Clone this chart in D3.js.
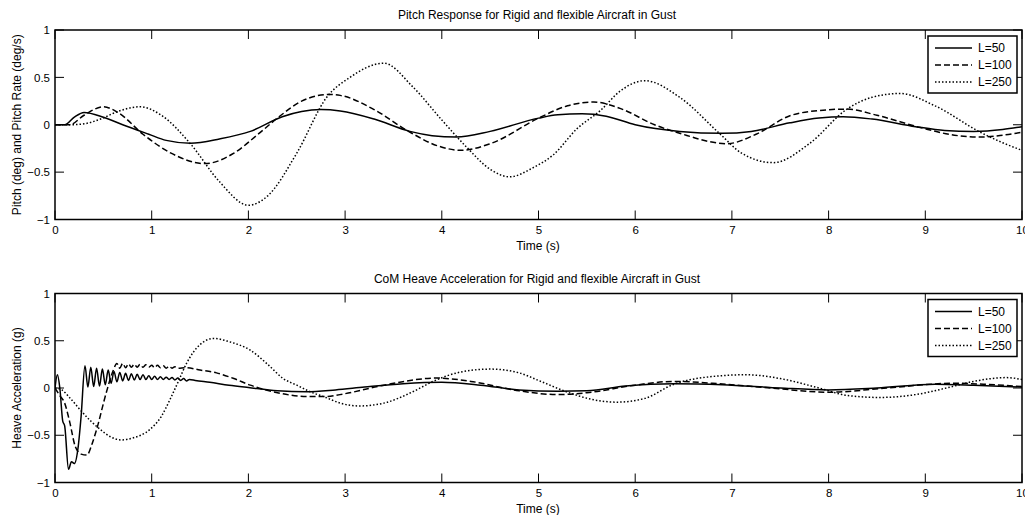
<!DOCTYPE html>
<html>
<head>
<meta charset="utf-8">
<script src="https://cdn.jsdelivr.net/npm/d3@7"></script>
<style>
  body { margin: 0; background: #fff; }
  svg text { font-family: "Liberation Sans", Arial, sans-serif; fill: #000; }
</style>
</head>
<body>
<svg id="chart" width="1025" height="515"></svg>
<script>
// series labels
const seriesNames = ["L=50", "L=100", "L=250"];
const xTicks = [0, 1, 2, 3, 4, 5, 6, 7, 8, 9, 10];
const yTicks = [-1, -0.5, 0, 0.5, 1];

// pitch response [t, value]
const pitchL50 = [[0,0],[0.1,0],[0.2,0.08],[0.3,0.13],[0.5,0.08],[0.7,0.0],[0.97,-0.1],[1.15,-0.165],[1.4,-0.195],[1.7,-0.15],[2.02,-0.07],[2.35,0.085],[2.55,0.14],[2.75,0.16],[2.95,0.145],[3.3,0.06],[3.67,-0.07],[3.9,-0.115],[4.15,-0.13],[4.5,-0.07],[5.0,0.07],[5.2,0.105],[5.45,0.115],[5.7,0.09],[6.0,0.0],[6.46,-0.07],[6.9,-0.09],[7.2,-0.07],[7.6,0.02],[7.9,0.07],[8.15,0.085],[8.45,0.06],[8.9,-0.02],[9.2,-0.06],[9.5,-0.07],[9.8,-0.05],[10,-0.02]];
const pitchL100 = [[0,0],[0.15,0.0],[0.3,0.1],[0.5,0.19],[0.65,0.13],[0.91,-0.1],[1.2,-0.3],[1.55,-0.41],[1.85,-0.3],[2.1,-0.1],[2.33,0.095],[2.55,0.25],[2.84,0.32],[2.95,0.31],[3.3,0.16],[3.64,-0.06],[3.95,-0.22],[4.2,-0.27],[4.5,-0.2],[5.02,0.08],[5.3,0.2],[5.57,0.24],[5.85,0.17],[6.2,0.0],[6.46,-0.09],[6.95,-0.2],[7.25,-0.1],[7.6,0.095],[7.9,0.15],[8.19,0.165],[8.5,0.1],[8.95,-0.03],[9.3,-0.11],[9.57,-0.13],[9.8,-0.11],[10,-0.08]];
const pitchL250 = [[0,0],[0.15,0.0],[0.3,0.01],[0.47,0.06],[0.65,0.14],[0.88,0.19],[1.1,0.1],[1.4,-0.2],[1.7,-0.6],[2.0,-0.85],[2.2,-0.75],[2.5,-0.3],[2.81,0.29],[3.05,0.5],[3.4,0.65],[3.7,0.4],[4.0,0.05],[4.26,-0.24],[4.5,-0.47],[4.7,-0.55],[4.95,-0.45],[5.15,-0.32],[5.4,-0.04],[5.64,0.15],[5.85,0.36],[6.1,0.465],[6.46,0.29],[6.88,-0.1],[7.1,-0.3],[7.43,-0.4],[7.8,-0.2],[8.19,0.165],[8.45,0.29],[8.74,0.33],[9.1,0.2],[9.57,-0.08],[9.8,-0.19],[10,-0.27]];

// heave acceleration [t, value]
const heaveL50 = [[0,0],[0.025,0.14],[0.05,0.0],[0.08,-0.35],[0.1,-0.4],[0.14,-0.86],[0.17,-0.78],[0.2,-0.8],[0.24,-0.62],[0.27,-0.3],[0.31,0.235],
  [0.34,0.01],[0.37,0.22],[0.40,0.015],[0.43,0.21],[0.46,0.02],[0.49,0.2],[0.52,0.035],[0.55,0.19],[0.58,0.05],[0.61,0.175],[0.64,0.065],[0.67,0.165],[0.70,0.075],[0.73,0.155],[0.76,0.08],[0.79,0.15],[0.82,0.085],[0.85,0.145],[0.88,0.09],[0.91,0.14],[0.94,0.09],[0.97,0.13],[1.0,0.09],[1.03,0.125],[1.06,0.09],[1.09,0.12],[1.12,0.09],[1.15,0.115],[1.18,0.09],[1.21,0.11],[1.24,0.085],[1.27,0.105],[1.30,0.08],[1.33,0.1],[1.36,0.075],[1.39,0.09],
  [1.45,0.08],[1.6,0.06],[1.8,0.03],[2.0,0.005],[2.3,-0.03],[2.6,-0.04],[2.9,-0.02],[3.2,0.01],[3.6,0.045],[4.0,0.06],[4.4,0.03],[4.8,-0.02],[5.2,-0.035],[5.5,-0.03],[5.9,0.02],[6.4,0.045],[6.9,0.035],[7.5,0.0],[8.0,-0.02],[8.5,0.0],[9.1,0.04],[9.5,0.03],[10,0.01]];
const heaveL100 = [[0,0],[0.05,-0.08],[0.1,-0.16],[0.15,-0.35],[0.21,-0.62],[0.27,-0.7],[0.33,-0.71],[0.38,-0.6],[0.43,-0.44],[0.53,-0.05],[0.6,0.18],
  [0.64,0.26],[0.67,0.21],[0.70,0.26],[0.73,0.215],[0.76,0.255],[0.79,0.22],[0.82,0.25],[0.85,0.22],[0.88,0.25],[0.91,0.22],[0.94,0.245],[0.97,0.22],[1.0,0.24],[1.03,0.215],[1.06,0.24],[1.09,0.215],[1.12,0.235],[1.15,0.21],[1.18,0.23],[1.21,0.21],[1.24,0.225],[1.27,0.21],
  [1.35,0.215],[1.5,0.19],[1.67,0.16],[1.85,0.1],[2.02,0.03],[2.3,-0.05],[2.6,-0.09],[2.8,-0.09],[3.0,-0.06],[3.4,0.03],[3.95,0.105],[4.3,0.07],[4.8,-0.03],[5.2,-0.07],[5.5,-0.05],[6.0,0.03],[6.4,0.07],[6.8,0.05],[7.4,0.0],[8.0,-0.045],[8.6,0.0],[9.3,0.05],[9.6,0.04],[10,0.015]];
const heaveL250 = [[0,0],[0.07,-0.02],[0.15,-0.1],[0.26,-0.23],[0.37,-0.35],[0.47,-0.44],[0.58,-0.52],[0.69,-0.55],[0.8,-0.53],[0.98,-0.44],[1.1,-0.3],[1.19,-0.12],[1.28,0.08],[1.36,0.26],[1.5,0.46],[1.64,0.525],[1.8,0.49],[2.02,0.4],[2.2,0.25],[2.36,0.1],[2.5,0.03],[2.64,-0.04],[2.8,-0.1],[2.95,-0.16],[3.15,-0.19],[3.4,-0.16],[3.7,-0.04],[3.91,0.07],[4.2,0.17],[4.5,0.2],[4.8,0.16],[5.0,0.08],[5.29,-0.04],[5.55,-0.12],[5.81,-0.15],[6.1,-0.11],[6.4,0.04],[6.7,0.11],[7.15,0.14],[7.5,0.1],[7.9,0.0],[8.2,-0.08],[8.53,-0.1],[8.9,-0.07],[9.22,0.0],[9.5,0.07],[9.84,0.11],[10,0.09]];

const dashes = [null, "6,3", "1.5,2"];

const svg = d3.select("#chart");
const left = 55, right = 1022;
const x = d3.scaleLinear().domain([0, 10]).range([left, right]);

function panel(top, bottom, title, ylabel, series, clipId) {
    const y = d3.scaleLinear().domain([-1, 1]).range([bottom, top]);
    const g = svg.append("g");

    svg.append("clipPath").attr("id", clipId)
        .append("rect").attr("x", left).attr("y", top)
        .attr("width", right - left).attr("height", bottom - top);

    // tick labels
    g.append("g").attr("transform", `translate(0,${bottom})`)
        .call(d3.axisBottom(x).tickValues(xTicks).tickSize(0).tickPadding(6).tickFormat(d3.format("d")))
        .call(a => a.select(".domain").remove())
        .selectAll("text").attr("font-size", 11.5).attr("font-family", "Liberation Sans, Arial, sans-serif");
    g.append("g").attr("transform", `translate(${left},0)`)
        .call(d3.axisLeft(y).tickValues(yTicks).tickSize(0).tickPadding(5).tickFormat(d3.format("")))
        .call(a => a.select(".domain").remove())
        .selectAll("text").attr("font-size", 11.5).attr("font-family", "Liberation Sans, Arial, sans-serif");

    // inner ticks on all four sides
    const tl = 9;
    g.selectAll(".xt").data(xTicks).enter().append("path")
        .attr("d", d => `M${x(d)},${bottom}v${-tl}M${x(d)},${top}v${tl}`)
        .attr("stroke", "#000").attr("stroke-width", 1);
    g.selectAll(".yt").data(yTicks).enter().append("path")
        .attr("d", d => `M${left},${y(d)}h${tl}M${right},${y(d)}h${-tl}`)
        .attr("stroke", "#000").attr("stroke-width", 1);

    const line = d3.line().x(d => x(d[0])).y(d => y(d[1])).curve(d3.curveMonotoneX);
    g.append("g").attr("clip-path", `url(#${clipId})`)
        .selectAll("path").data(series).enter().append("path")
        .attr("d", line)
        .attr("fill", "none").attr("stroke", "#000").attr("stroke-width", 1.5)
        .attr("stroke-dasharray", (d, i) => dashes[i]);

    g.append("rect").attr("x", left).attr("y", top)
        .attr("width", right - left).attr("height", bottom - top)
        .attr("fill", "none").attr("stroke", "#000").attr("stroke-width", 1.5);

    g.append("text").attr("x", 537).attr("y", top - 11).attr("text-anchor", "middle")
        .attr("font-size", 12).text(title);
    g.append("text").attr("x", 538).attr("y", bottom + 30).attr("text-anchor", "middle")
        .attr("font-size", 12).text("Time (s)");
    g.append("text").attr("transform", `translate(21,${(top + bottom) / 2}) rotate(-90)`)
        .attr("text-anchor", "middle").attr("font-size", 12).text(ylabel);

    // legend
    const lg = g.append("g").attr("transform", `translate(928,${top + 6})`);
    lg.append("rect").attr("width", 89).attr("height", 57)
        .attr("fill", "#fff").attr("stroke", "#000").attr("stroke-width", 1.5);
    seriesNames.forEach((name, i) => {
        const yy = 12 + i * 17;
        lg.append("path").attr("d", `M7,${yy}h37`)
            .attr("stroke", "#000").attr("stroke-width", 1.5).attr("stroke-dasharray", dashes[i]);
        lg.append("text").attr("x", 50).attr("y", yy + 4).attr("font-size", 12).text(name);
    });
}

panel(30, 219.5, "Pitch Response for Rigid and flexible Aircraft in Gust",
    "Pitch (deg) and Pitch Rate (deg/s)", [pitchL50, pitchL100, pitchL250], "clipTop");
panel(293.5, 482.5, "CoM Heave Acceleration for Rigid and flexible Aircraft in Gust",
    "Heave Acceleration (g)", [heaveL50, heaveL100, heaveL250], "clipBottom");
</script>
</body>
</html>
